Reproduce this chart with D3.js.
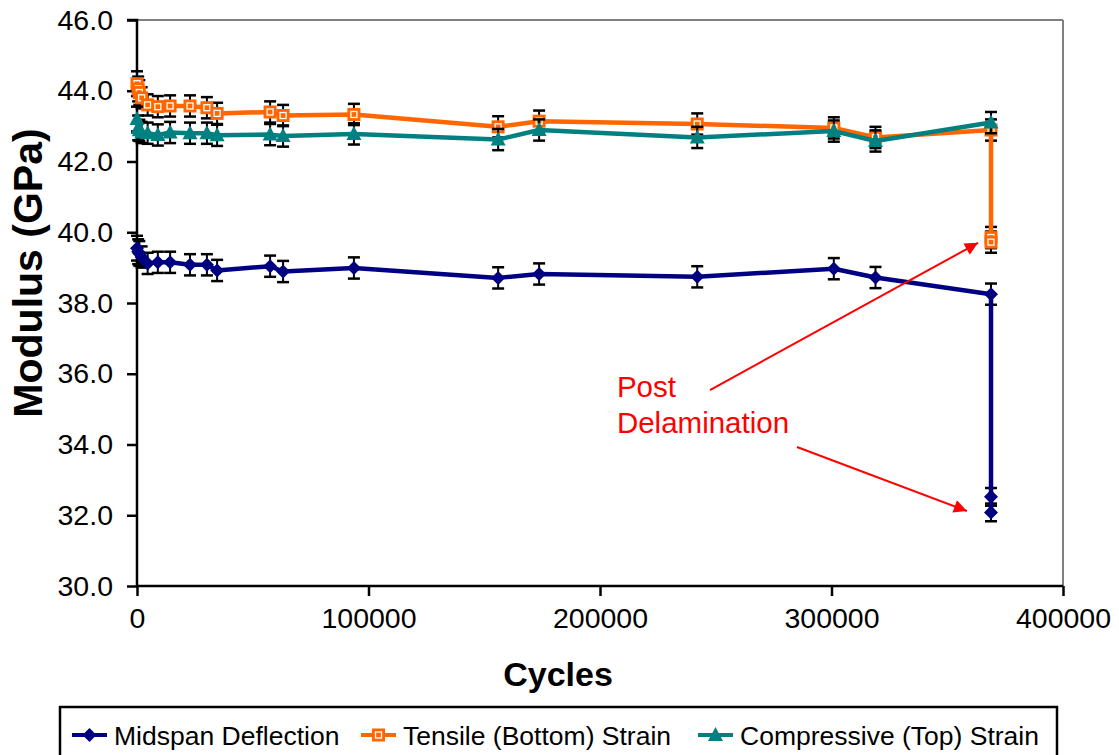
<!DOCTYPE html>
<html><head><meta charset="utf-8">
<script src="https://cdn.jsdelivr.net/npm/d3@7"></script>
<style>
html,body{margin:0;padding:0;background:#fff;}
text{font-family:"Liberation Sans",Arial,sans-serif;}
</style></head>
<body>
<svg id="chart" width="1119" height="755"></svg>
<script>
// ---- data ----
const seriesNames = ["Midspan Deflection", "Tensile (Bottom) Strain", "Compressive (Top) Strain"];
const midCycles = [0, 500, 1000, 2000, 4600, 9000, 14300, 22900, 30200, 34600, 57500, 63100, 93700, 156000, 173700, 242000, 301000, 319000, 368900, 368900, 368900];
const midValues = [39.55, 39.45, 39.4, 39.3, 39.12, 39.15, 39.15, 39.08, 39.08, 38.92, 39.04, 38.89, 38.99, 38.71, 38.82, 38.74, 38.97, 38.72, 38.25, 32.52, 32.08];
const midErrors = [0.35, 0.35, 0.35, 0.3, 0.3, 0.3, 0.3, 0.3, 0.3, 0.3, 0.3, 0.3, 0.3, 0.3, 0.3, 0.3, 0.3, 0.3, 0.3, 0.25, 0.25];
const tenCycles = [0, 500, 1000, 2000, 4600, 9000, 14300, 22900, 30200, 34600, 57500, 63100, 93700, 156000, 173700, 242000, 301000, 319000, 368900, 368900, 368900];
const tenValues = [44.2, 44.05, 43.95, 43.8, 43.6, 43.55, 43.57, 43.57, 43.52, 43.36, 43.4, 43.3, 43.33, 42.98, 43.14, 43.06, 42.95, 42.68, 42.89, 39.85, 39.72];
const tenErrors = [0.35, 0.35, 0.35, 0.3, 0.3, 0.3, 0.3, 0.3, 0.3, 0.3, 0.3, 0.3, 0.3, 0.3, 0.3, 0.3, 0.3, 0.3, 0.3, 0.3, 0.3];
const comCycles = [0, 500, 1000, 2000, 4600, 9000, 14300, 22900, 30200, 34600, 57500, 63100, 93700, 156000, 173700, 242000, 301000, 319000, 368900];
const comValues = [43.2, 42.95, 42.88, 42.82, 42.8, 42.75, 42.82, 42.8, 42.8, 42.74, 42.76, 42.72, 42.78, 42.62, 42.89, 42.68, 42.86, 42.58, 43.1];
const comErrors = [0.35, 0.35, 0.3, 0.3, 0.3, 0.3, 0.3, 0.3, 0.3, 0.3, 0.3, 0.3, 0.3, 0.3, 0.3, 0.3, 0.3, 0.3, 0.3];
const xTicks = [0, 100000, 200000, 300000, 400000];
const yTicks = [30, 32, 34, 36, 38, 40, 42, 44, 46];
const xTitle = "Cycles";
const yTitle = "Modulus (GPa)";
const annotationLines = ["Post", "Delamination"];

// ---- layout ----
const colors = ["#000080", "#FF6600", "#008080"];
const svg = d3.select("#chart");
const x = d3.scaleLinear().domain([0, 400000]).range([137, 1063]);
const y = d3.scaleLinear().domain([30, 46]).range([586, 20]);

// plot border (top/right gray)
svg.append("line").attr("x1", x(0)).attr("x2", x(400000)).attr("y1", y(46)).attr("y2", y(46))
  .attr("stroke", "#808080").attr("stroke-width", 2);
svg.append("line").attr("x1", x(400000)).attr("x2", x(400000)).attr("y1", y(46)).attr("y2", y(30))
  .attr("stroke", "#808080").attr("stroke-width", 2);

// axes
const yAxis = svg.append("g").attr("transform", `translate(${x(0)},0)`)
  .call(d3.axisLeft(y).tickValues(yTicks).tickFormat(d3.format(".1f")).tickSize(10).tickPadding(14));
const xAxis = svg.append("g").attr("transform", `translate(0,${y(30)})`)
  .call(d3.axisBottom(x).tickValues(xTicks).tickFormat(d3.format("d")).tickSize(10).tickPadding(12));
[yAxis, xAxis].forEach(g => {
  g.select(".domain").attr("stroke", "#000").attr("stroke-width", 2.5);
  g.selectAll(".tick line").attr("stroke", "#000").attr("stroke-width", 2.5);
  g.selectAll(".tick text").attr("fill", "#000").style("font-size", "28.5px")
    .style("font-family", '"Liberation Sans", Arial, sans-serif');
});
yAxis.select(".domain").attr("d", `M-10,${y(46)}H0V${y(30)}`);
xAxis.select(".domain").attr("d", `M${x(0)},0H${x(400000)}`);

// titles
svg.append("text").attr("x", 558).attr("y", 686)
  .attr("text-anchor", "middle").style("font-size", "34px").style("font-weight", "bold").text(xTitle);
svg.append("text").attr("transform", "translate(42,273) rotate(-90)")
  .attr("text-anchor", "middle").style("font-size", "41px").style("font-weight", "bold").text(yTitle);

// series
const series = [
  {c: midCycles, v: midValues, e: midErrors, color: colors[0], marker: "diamond"},
  {c: tenCycles, v: tenValues, e: tenErrors, color: colors[1], marker: "square"},
  {c: comCycles, v: comValues, e: comErrors, color: colors[2], marker: "triangle"}
];
const line = d3.line().x(d => x(d.c)).y(d => y(d.v));

function drawMarker(g, type, color) {
  if (type === "diamond") {
    g.append("path").attr("d", "M0,-7L7,0L0,7L-7,0Z").attr("fill", color);
  } else if (type === "square") {
    g.append("rect").attr("x", -6.5).attr("y", -6.5).attr("width", 13).attr("height", 13)
      .attr("fill", color);
    g.append("rect").attr("x", -3).attr("y", -3).attr("width", 6).attr("height", 6)
      .attr("fill", "none").attr("stroke", "#fff").attr("stroke-width", 1.3);
  } else {
    g.append("path").attr("d", "M0,-8L7.5,6L-7.5,6Z").attr("fill", color);
  }
}

series.forEach(s => {
  const pts = s.c.map((c, i) => ({c, v: s.v[i], e: s.e[i]}));
  const g = svg.append("g");
  // error bars
  const eb = g.append("g");
  pts.forEach(p => {
    const cx = x(p.c), y1 = y(p.v + p.e), y2 = y(p.v - p.e);
    eb.append("line").attr("x1", cx).attr("x2", cx).attr("y1", y1).attr("y2", y2)
      .attr("stroke", "#000").attr("stroke-width", 2);
    [y1, y2].forEach(yy => eb.append("line").attr("x1", cx - 6).attr("x2", cx + 6)
      .attr("y1", yy).attr("y2", yy).attr("stroke", "#000").attr("stroke-width", 2.5));
  });
  g.append("path").datum(pts).attr("d", line).attr("fill", "none")
    .attr("stroke", s.color).attr("stroke-width", 4.5).attr("stroke-linejoin", "round");
  pts.forEach(p => {
    const m = g.append("g").attr("transform", `translate(${x(p.c)},${y(p.v)})`);
    drawMarker(m, s.marker, s.color);
  });
});

// annotation
const red = "#FF0000";
svg.append("defs").append("marker").attr("id", "ah").attr("viewBox", "0 0 10 10")
  .attr("refX", 10).attr("refY", 5).attr("markerWidth", 7).attr("markerHeight", 6.5)
  .attr("markerUnits", "strokeWidth").attr("orient", "auto")
  .append("path").attr("d", "M0,0L10,5L0,10Z").attr("fill", red);
const arrows = [
  {from: [247500, 35.54], to: [363300, 39.70]},
  {from: [285100, 33.93], to: [358500, 32.12]}
];
arrows.forEach(a => {
  svg.append("line").attr("x1", x(a.from[0])).attr("y1", y(a.from[1]))
    .attr("x2", x(a.to[0])).attr("y2", y(a.to[1]))
    .attr("stroke", red).attr("stroke-width", 2).attr("marker-end", "url(#ah)");
});
const ann = svg.append("text").attr("fill", red).style("font-size", "29.5px");
ann.append("tspan").attr("x", x(207300)).attr("y", y(35.34)).text(annotationLines[0]);
ann.append("tspan").attr("x", x(207300)).attr("y", y(34.33)).text(annotationLines[1]);

// legend
const lg = svg.append("g");
lg.append("rect").attr("x", 60).attr("y", 707).attr("width", 997).attr("height", 60)
  .attr("fill", "#fff").attr("stroke", "#000").attr("stroke-width", 2.5);
const legendX = [72, 361, 698];
series.forEach((s, i) => {
  const gx = legendX[i];
  lg.append("line").attr("x1", gx).attr("x2", gx + 35).attr("y1", 735).attr("y2", 735)
    .attr("stroke", s.color).attr("stroke-width", 4);
  const m = lg.append("g").attr("transform", `translate(${gx + 17.5},735)`);
  drawMarker(m, s.marker, s.color);
  lg.append("text").attr("x", gx + 42).attr("y", 745).style("font-size", "26.5px")
    .attr("fill", "#000").text(seriesNames[i]);
});
</script>
</body></html>
